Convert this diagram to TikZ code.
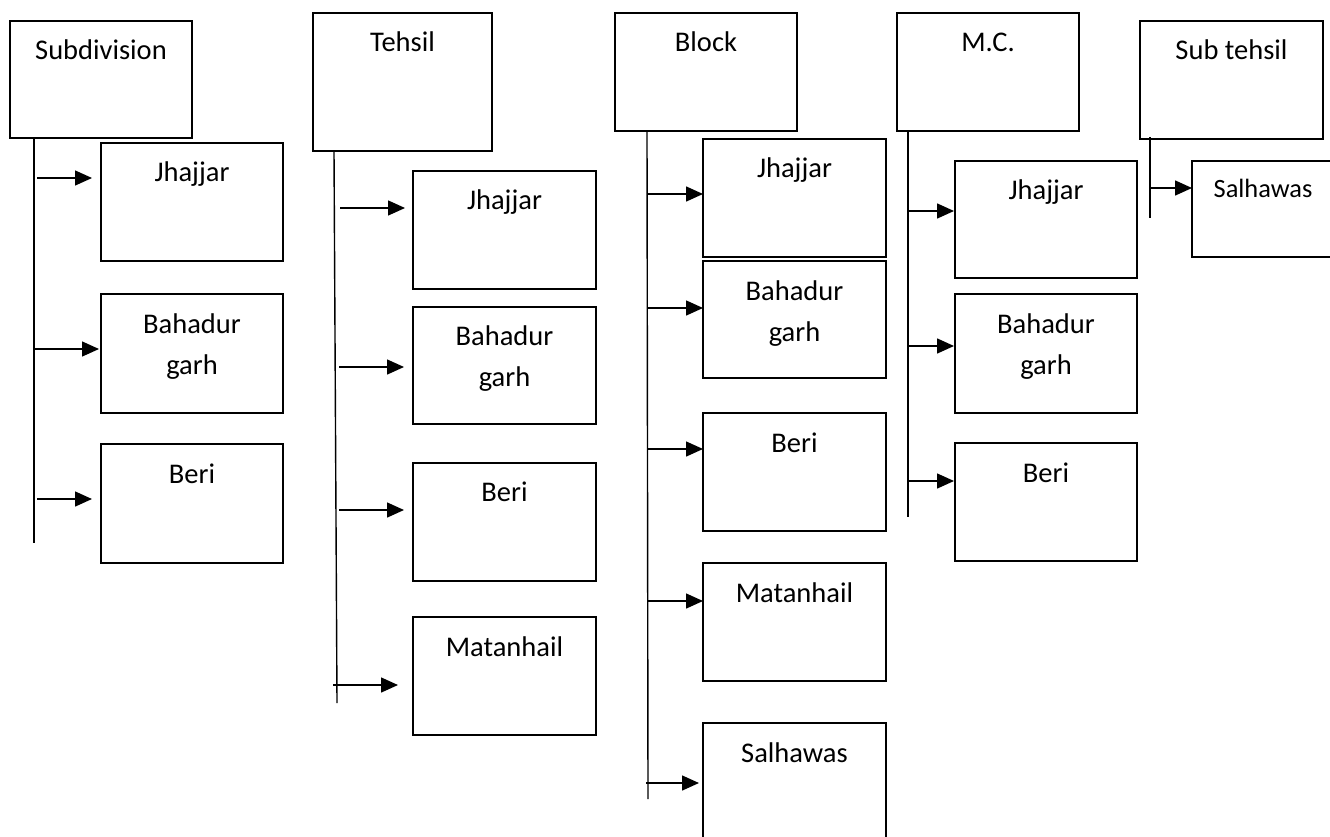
\documentclass[tikz,border=0pt]{standalone}
\usepackage{fontspec}
\setmainfont{Carlito}
\usetikzlibrary{arrows.meta,calc}
\tikzset{
  box/.style={draw=black, line width=1.3pt, rectangle, inner sep=0pt, outer sep=0pt, anchor=north west},
  lbl/.style={anchor=base, inner sep=0pt, align=center, font=\fontsize{28.5}{41}\selectfont},
  smalllbl/.style={anchor=base, inner sep=0pt, font=\fontsize{26.4}{36}\selectfont},
  spine/.style={draw=black, line width=1.4pt},
  arr/.style={draw=black, line width=1.5pt, -{Triangle[length=17pt,width=15pt]}}
}
\begin{document}
\begin{tikzpicture}[x=1pt,y=-1pt]
\path[use as bounding box] (0,0) rectangle (1330,837);
\clip (0,0) rectangle (1330,837);

% ---------- Column 1: Subdivision ----------
\node[box,minimum width=182pt,minimum height=117pt] (sub) at (10,21) {};
\node[lbl] (subT) at ($(sub.north)+(0,39)$) {Subdivision};
\node[box,minimum width=182pt,minimum height=118pt] (sub1) at (101,143) {};
\node[lbl] (sub1T) at ($(sub1.north)+(0,39)$) {Jhajjar};
\node[box,minimum width=182pt,minimum height=119pt] (sub2) at (101,294) {};
\node[lbl] (sub2T) at ($(sub2.north)+(0,80)$) {Bahadur\\garh};
\node[box,minimum width=182pt,minimum height=119pt] (sub3) at (101,444) {};
\node[lbl] (sub3T) at ($(sub3.north)+(0,39)$) {Beri};
\coordinate (subS) at (34,138);
\coordinate (subE) at (34,543);
\draw[spine] (subS) -- (subE);
\coordinate (a11) at (37,178);
\coordinate (a12) at (34,349);
\coordinate (a13) at (37,499);
\draw[arr,shorten >=9pt] (a11) -- (a11 -| sub1.west);
\draw[arr,shorten >=2pt] (a12) -- (a12 -| sub2.west);
\draw[arr,shorten >=9pt] (a13) -- (a13 -| sub3.west);

% ---------- Column 2: Tehsil ----------
\node[box,minimum width=179pt,minimum height=138pt] (teh) at (313,13) {};
\node[lbl] (tehT) at ($(teh.north)+(0,39)$) {Tehsil};
\node[box,minimum width=183pt,minimum height=118pt] (teh1) at (413,171) {};
\node[lbl] (teh1T) at ($(teh1.north)+(0,39)$) {Jhajjar};
\node[box,minimum width=183pt,minimum height=117pt] (teh2) at (413,307) {};
\node[lbl] (teh2T) at ($(teh2.north)+(0,79)$) {Bahadur\\garh};
\node[box,minimum width=183pt,minimum height=118pt] (teh3) at (413,463) {};
\node[lbl] (teh3T) at ($(teh3.north)+(0,38)$) {Beri};
\node[box,minimum width=183pt,minimum height=118pt] (teh4) at (413,617) {};
\node[lbl] (teh4T) at ($(teh4.north)+(0,39)$) {Matanhail};
\coordinate (tehS) at (334,151);
\coordinate (tehE) at (337,703);
\draw[spine] (tehS) -- (tehE);
\coordinate (a21) at (340,208);
\coordinate (a22) at (339,367);
\coordinate (a23) at (339,510);
\coordinate (a24) at (333,685);
\draw[arr,shorten >=8pt] (a21) -- (a21 -| teh1.west);
\draw[arr,shorten >=9pt] (a22) -- (a22 -| teh2.west);
\draw[arr,shorten >=9pt] (a23) -- (a23 -| teh3.west);
\draw[arr,shorten >=15pt] (a24) -- (a24 -| teh4.west);

% ---------- Column 3: Block ----------
\node[box,minimum width=182pt,minimum height=118pt] (blk) at (615,13) {};
\node[lbl] (blkT) at ($(blk.north)+(0,39)$) {Block};
\node[box,minimum width=183pt,minimum height=118pt] (blk1) at (703,139) {};
\node[lbl] (blk1T) at ($(blk1.north)+(0,39)$) {Jhajjar};
\node[box,minimum width=183pt,minimum height=117pt] (blk2) at (703,261) {};
\node[lbl] (blk2T) at ($(blk2.north)+(0,80)$) {Bahadur\\garh};
\node[box,minimum width=183pt,minimum height=118pt] (blk3) at (703,413) {};
\node[lbl] (blk3T) at ($(blk3.north)+(0,39)$) {Beri};
\node[box,minimum width=183pt,minimum height=118pt] (blk4) at (703,563) {};
\node[lbl] (blk4T) at ($(blk4.north)+(0,39)$) {Matanhail};
\node[box,minimum width=183pt,minimum height=130pt] (blk5) at (703,723) {};
\node[lbl] (blk5T) at ($(blk5.north)+(0,39)$) {Salhawas};
\coordinate (blkS) at (647,131);
\coordinate (blkE) at (648,799);
\draw[spine] (blkS) -- (blkE);
\coordinate (a31) at (648,194);
\coordinate (a32) at (648,308);
\coordinate (a33) at (648,449);
\coordinate (a34) at (648,601);
\coordinate (a35) at (646,783);
\draw[arr] (a31) -- (a31 -| blk1.west);
\draw[arr] (a32) -- (a32 -| blk2.west);
\draw[arr] (a33) -- (a33 -| blk3.west);
\draw[arr] (a34) -- (a34 -| blk4.west);
\draw[arr,shorten >=4pt] (a35) -- (a35 -| blk5.west);

% ---------- Column 4: M.C. ----------
\node[box,minimum width=182pt,minimum height=118pt] (mc) at (897,13) {};
\node[lbl] (mcT) at ($(mc.north)+(0,39)$) {M.C.};
\node[box,minimum width=182pt,minimum height=117pt] (mc1) at (955,161) {};
\node[lbl] (mc1T) at ($(mc1.north)+(0,39)$) {Jhajjar};
\node[box,minimum width=182pt,minimum height=119pt] (mc2) at (955,294) {};
\node[lbl] (mc2T) at ($(mc2.north)+(0,80)$) {Bahadur\\garh};
\node[box,minimum width=182pt,minimum height=118pt] (mc3) at (955,443) {};
\node[lbl] (mc3T) at ($(mc3.north)+(0,39)$) {Beri};
\coordinate (mcS) at (908,131);
\coordinate (mcE) at (908,517);
\draw[spine] (mcS) -- (mcE);
\coordinate (a41) at (908,211);
\coordinate (a42) at (908,346);
\coordinate (a43) at (908,481);
\draw[arr,shorten >=1pt] (a41) -- (a41 -| mc1.west);
\draw[arr,shorten >=1pt] (a42) -- (a42 -| mc2.west);
\draw[arr,shorten >=1pt] (a43) -- (a43 -| mc3.west);

% ---------- Column 5: Sub tehsil ----------
\node[box,minimum width=183pt,minimum height=118pt] (st) at (1140,21) {};
\node[lbl] (stT) at ($(st.north)+(0,39)$) {Sub tehsil};
\node[box,minimum width=160pt,minimum height=96pt] (st1) at (1192,161) {};
\node[smalllbl] (st1T) at ($(st1.north west)+(71,36)$) {Salhawas};
\coordinate (stS) at (1150,137);
\coordinate (stE) at (1150,218);
\draw[spine] (stS) -- (stE);
\coordinate (a51) at (1150,188);
\draw[arr] (a51) -- (a51 -| st1.west);
\end{tikzpicture}
\end{document}
